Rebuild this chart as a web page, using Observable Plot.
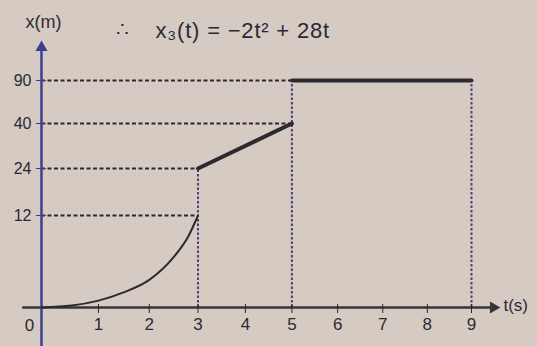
<!DOCTYPE html>
<html><head><meta charset="utf-8">
<script src="https://cdn.jsdelivr.net/npm/d3@7"></script>
<script src="https://cdn.jsdelivr.net/npm/@observablehq/plot@0.6"></script>
<style>
html,body{margin:0;padding:0;background:#d6cbc2;}
#chart{position:relative;width:537px;height:346px;overflow:hidden;}
</style></head><body><div id="chart"></div>
<script>
// ---- data ----
const tDomain = [0,9];
const xBreaks = [0,12,24,40,90];
const tTickLabels = [1,2,3,4,5,6,7,8,9];
const xTickLabels = [12,24,40,90];
const curveT = [0,0.5,1,1.5,2,2.5,2.8,3];
const curveX = [0,0.25,0.9,2.0,3.6,6.6,9.3,12];
const lineT = [3,5];
const lineX = [24,40];
const flatT = [5,9];
const flatX = [90,90];
const hGuideX = [12,24,40,90];
const hGuideT = [3,3,5,5];
const vGuideT = [3,5,9];
const vGuideX = [24,90,90];
const tAxisSpan = [-0.3,9.45];
const tArrow = 9.5;
const xAxisSpan = [-5.4,125];
const xArrow = 128.5;
const yTitle = "x(m)";
const xTitle = "t(s)";
const eqPrefix = "∴";
const equation = "x₃(t) = −2t² + 28t";

// ---- tables ----
const curve = curveT.map((t,i)=>({t, x:curveX[i]}));
const line = lineT.map((t,i)=>({t, x:lineX[i]}));
const flat = flatT.map((t,i)=>({t, x:flatX[i]}));
const hGuide = hGuideX.map((x,i)=>({x, t:hGuideT[i]}));
const vGuide = vGuideT.map((t,i)=>({t, x:vGuideX[i]}));

const ink = "#2b2a30";
const purple = "#4a3f7c";
const blue = "#3c3f8f";

const chart = Plot.plot({
  width:537, height:346,
  marginLeft:41, marginBottom:39, marginTop:80, marginRight:66,
  style:{background:"transparent", fontFamily:"Arial, 'Liberation Sans', sans-serif", fontSize:"16px", color:"#2a2936"},
  x:{type:"pow", exponent:0.92, domain:tDomain},
  y:{type:"linear", domain:xBreaks, range:[307,215,168,123,80]},
  marks:[
    Plot.ruleY(hGuide, {y:"x", x1:0, x2:"t", stroke:ink, strokeWidth:2, strokeDasharray:"4,2.5"}),
    Plot.ruleX(vGuide, {x:"t", y1:0, y2:"x", stroke:purple, strokeWidth:2, strokeDasharray:"2.5,2"}),
    Plot.ruleY([0], {x1:tAxisSpan[0], x2:tAxisSpan[1], stroke:"#36353b", strokeWidth:2.5}),
    Plot.ruleX([0], {y1:xAxisSpan[0], y2:xAxisSpan[1], stroke:blue, strokeWidth:2.5}),
    Plot.dot([tArrow], {x:d=>d, y:0, symbol:"triangle", rotate:90, r:4.5, fill:"#36353b", stroke:"none"}),
    Plot.dot([xArrow], {x:0, y:d=>d, symbol:"triangle", r:4.5, fill:blue, stroke:"none"}),
    Plot.line(curve, {x:"t", y:"x", curve:"monotone-x", stroke:ink, strokeWidth:2}),
    Plot.line(line, {x:"t", y:"x", stroke:ink, strokeWidth:4}),
    Plot.line(flat, {x:"t", y:"x", stroke:ink, strokeWidth:4}),
    Plot.axisY({ticks:xTickLabels, tickSize:10, dx:5, tickPadding:5, stroke:blue, label:null, fontSize:16}),
    Plot.axisX({ticks:tTickLabels, tickSize:9, dy:-3, tickPadding:4, stroke:ink, label:null, fontSize:17}),
    Plot.text([0], {x:0, y:0, text:d=>String(d), dx:-12, dy:18, fontSize:17}),
    Plot.text([xTitle], {x:tArrow, y:0, text:d=>d, dx:10, dy:-2, textAnchor:"start", fontSize:17}),
    Plot.text([yTitle], {frameAnchor:"top-left", lineAnchor:"middle", text:d=>d, dx:2, dy:-58, textAnchor:"middle", fontSize:18}),
    Plot.text([eqPrefix], {frameAnchor:"top-left", lineAnchor:"middle", text:d=>d, dx:81, dy:-51, textAnchor:"middle", fontSize:20}),
    Plot.text([equation], {frameAnchor:"top-left", lineAnchor:"middle", text:d=>d, dx:114, dy:-50, textAnchor:"start", fontSize:22})
  ]
});
d3.select(chart).selectAll("text").filter(function(){return this.textContent===equation;}).attr("letter-spacing","0.8px");
document.getElementById("chart").appendChild(chart);
</script></body></html>
